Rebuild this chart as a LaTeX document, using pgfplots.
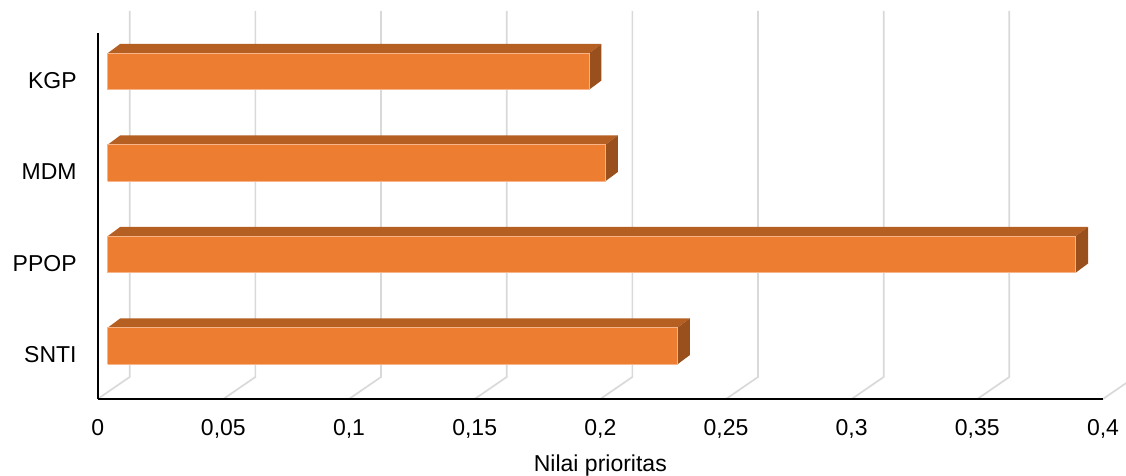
\documentclass[border=0pt]{standalone}
\usepackage{pgfplots}
\pgfplotsset{compat=1.18}
\usepackage{pgfplotstable}
\usepackage{fontspec}
\setmainfont{Liberation Sans}
\definecolor{frontc}{HTML}{ED7D31}
\definecolor{edgec}{HTML}{F6B488}
\definecolor{topc}{HTML}{B65F22}
\definecolor{sidec}{HTML}{9A501C}
\definecolor{gridc}{HTML}{D9D9D9}

% p = category position, v = Nilai prioritas
\pgfplotstableread{
p v
3 0.1915
2 0.198
1 0.3851
0 0.2267
}\data

% 3D geometry in axis units
\def\ox{0.003979}  % front face offset in x (depth)
\def\oy{0.0984}    % front face offset in y (depth)
\def\hh{0.2}       % half bar height
\def\dx{0.004974}  % bar depth in x
\def\dy{0.1016}    % bar depth in y

\begin{document}
\begin{tikzpicture}
\begin{axis}[
  set layers,
  at={(0pt,0pt)}, anchor=south west,
  scale only axis, width=502.65pt, height=183pt,
  xmin=0, xmax=0.4, ymin=-0.481, ymax=3.519,
  clip=false,
  axis x line*=bottom, axis y line*=left,
  axis line style={black, line width=1pt, -},
  major tick length=0pt,
  xtick={0,0.05,0.1,0.15,0.2,0.25,0.3,0.35,0.4},
  ytick={0,1,2,3},
  yticklabels={SNTI,PPOP,MDM,KGP},
  font=\fontsize{11.5}{14}\selectfont,
  /pgf/number format/assume math mode=true,
  /pgf/number format/use comma,
  /pgf/number format/fixed,
  /pgf/number format/precision=2,
  scaled x ticks=false,
  xticklabel style={anchor=base, yshift=-18.5pt, inner sep=0pt},
  yticklabel style={anchor=east, inner sep=0pt, xshift=-10.35pt},
  xlabel={Nilai prioritas},
  xlabel style={at={(axis description cs:0.5,0)}, anchor=base, yshift=-36.5pt, inner sep=0pt},
]
\begin{pgfonlayer}{axis background}
\pgfplotsinvokeforeach{0,0.05,0.1,0.15,0.2,0.25,0.3,0.35,0.4}{
  \draw[gridc, line width=0.85pt] (axis cs:#1,-0.481) -- ++(16pt,11pt) -- ++(0pt,183pt);
}
\end{pgfonlayer}
\pgfplotsforeachungrouped \i in {0,1,2,3}{%
  \pgfplotstablegetelem{\i}{v}\of\data \let\vv\pgfplotsretval
  \pgfplotstablegetelem{\i}{p}\of\data \let\pp\pgfplotsretval
  \pgfmathsetmacro\xa{\ox}%
  \pgfmathsetmacro\xb{\vv+\ox}%
  \pgfmathsetmacro\xc{\ox+\dx}%
  \pgfmathsetmacro\xd{\vv+\ox+\dx}%
  \pgfmathsetmacro\ya{\pp+\oy-\hh}%
  \pgfmathsetmacro\yb{\pp+\oy+\hh}%
  \pgfmathsetmacro\yc{\pp+\oy-\hh+\dy}%
  \pgfmathsetmacro\yd{\pp+\oy+\hh+\dy}%
  \edef\cmd{%
    \noexpand\addplot[fill=topc, draw=none] coordinates {(\xa,\yb) (\xb,\yb) (\xd,\yd) (\xc,\yd)};
    \noexpand\addplot[fill=sidec, draw=none] coordinates {(\xb,\ya) (\xb,\yb) (\xd,\yd) (\xd,\yc)};
    \noexpand\addplot[fill=frontc, draw=edgec, line width=0.4pt] coordinates {(\xa,\ya) (\xb,\ya) (\xb,\yb) (\xa,\yb) (\xa,\ya)};
  }%
  \cmd
}
\end{axis}
\pgfresetboundingbox
\path[use as bounding box] (-48.85pt,-38.5pt) rectangle (514.15pt,199.5pt);
\end{tikzpicture}
\end{document}
